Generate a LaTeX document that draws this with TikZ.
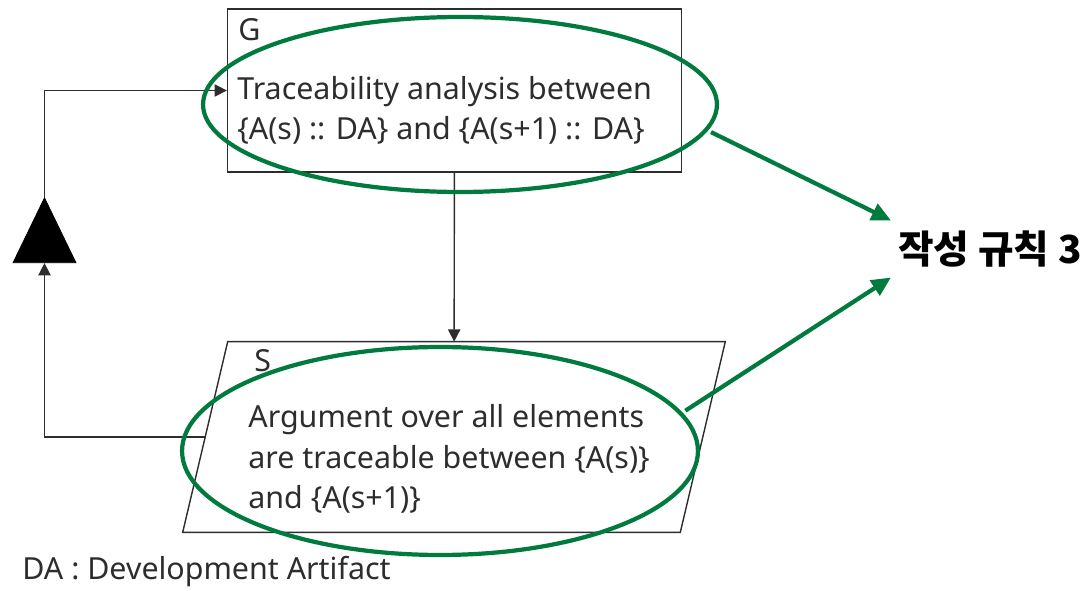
\documentclass[tikz,border=0pt]{standalone}
\usepackage{fontspec}
\setmainfont{Noto Sans}
\newfontfamily\kofont{Noto Sans CJK KR}
\usetikzlibrary{arrows.meta,shapes.geometric}
\definecolor{markgreen}{RGB}{0,122,61}
\definecolor{ink}{RGB}{45,45,45}
\begin{document}
\begin{tikzpicture}[x=0.02cm,y=-0.02cm,
	box/.style={draw=ink,line width=0.8pt,inner sep=0pt},
	txt/.style={text=ink,inner sep=0pt,align=left,font=\fontsize{17.3}{22.9}\selectfont},
	link/.style={draw=ink,line width=0.8pt,-{Triangle[length=7pt,width=7pt]}},
	ring/.style={draw=markgreen,line width=2.4pt,ellipse,inner sep=0pt},
	hint/.style={draw=markgreen,line width=2.4pt,-{Triangle[length=11pt,width=10pt]}}]
	\useasboundingbox (0,0) rectangle (1086,591);
	% goal
	\node[box,minimum width=9.08cm,minimum height=3.26cm] (G) at (454.5,90.5) {};
	\node[txt,anchor=west] (Gid) at (238,30) {G};
	\node[txt,anchor=west] (Gtext) at (237,110) {Traceability analysis between\\\{A(s) :: DA\} and \{A(s+1) :: DA\}};
	% strategy (parallelogram round the node)
	\node[inner sep=0pt,minimum width=9.94cm,minimum height=3.8cm] (S) at (454,437) {};
	\draw[box] ([xshift=-0.45cm]S.south west) -- ([xshift=0.45cm]S.north west)
		-- ([xshift=0.45cm]S.north east) -- ([xshift=-0.45cm]S.south east) -- cycle;
	\node[txt,anchor=west] (Sid) at (254,361) {S};
	\node[txt,anchor=west] (Stext) at (248,459) {Argument over all elements\\are traceable between \{A(s)\}\\and \{A(s+1)\}};
	% loop
	\node[fill=black,draw=black,isosceles triangle,isosceles triangle stretches,shape border rotate=90,
		minimum width=1.26cm,minimum height=1.3cm,inner sep=0pt] (tri) at (44.5,243) {};
	\draw[link] (G) -- (S);
	\draw[link] (S.west) -| (tri.south);
	\draw[link] (tri.north) |- (G.west);
	% marks
	\node[ring,minimum width=10.28cm,minimum height=3.5cm] (e1) at (460,104.5) {};
	\node[ring,minimum width=10.32cm,minimum height=4.16cm] (e2) at (440,451) {};
	\node[font=\kofont\bfseries\fontsize{22}{26}\selectfont,inner xsep=0.14cm,inner ysep=0.2cm] (rule) at (990,249) {작성 규칙 3};
	\draw[hint,shorten <=2pt] (e1.-6.5) -- (rule.north west);
	\draw[hint,shorten <=2pt] (e2.9) -- (rule.south west);
	\node[txt,anchor=west] (legend) at (22,572) {DA : Development Artifact};
\end{tikzpicture}
\end{document}
